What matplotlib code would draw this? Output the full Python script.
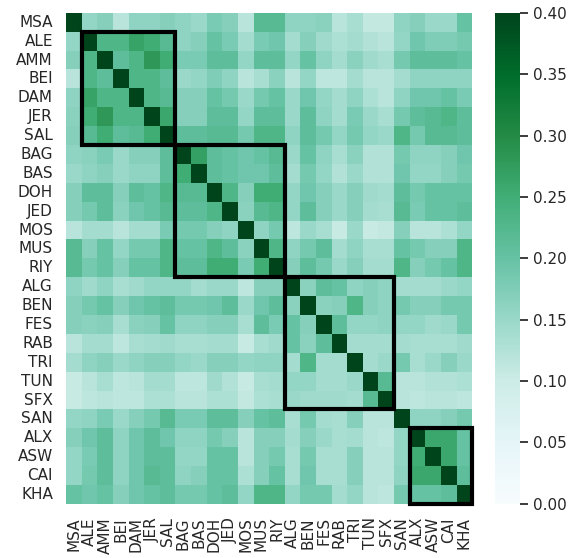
import numpy as np
import matplotlib
matplotlib.use("Agg")
import matplotlib.pyplot as plt
from matplotlib.patches import Rectangle
import seaborn as sns

# Dialect labels
labels = ["MSA", "ALE", "AMM", "BEI", "DAM", "JER", "SAL", "BAG", "BAS", "DOH",
          "JED", "MOS", "MUS", "RIY", "ALG", "BEN", "FES", "RAB", "TRI", "TUN",
          "SFX", "SAN", "ALX", "ASW", "CAI", "KHA"]

# Similarity matrix (row by row)
row_msa = [0.45, 0.155, 0.17, 0.12, 0.16, 0.16, 0.17, 0.16, 0.15, 0.18, 0.17, 0.12, 0.22, 0.22, 0.16, 0.16, 0.165, 0.12, 0.135, 0.11, 0.11, 0.16, 0.17, 0.15, 0.15, 0.20]
row_ale = [0.155, 0.45, 0.23, 0.23, 0.265, 0.25, 0.22, 0.16, 0.17, 0.2, 0.18, 0.14, 0.18, 0.19, 0.14, 0.17, 0.145, 0.13, 0.14, 0.125, 0.12, 0.155, 0.19, 0.175, 0.175, 0.185]
row_amm = [0.17, 0.23, 0.45, 0.21, 0.23, 0.28, 0.25, 0.18, 0.18, 0.21, 0.21, 0.155, 0.21, 0.21, 0.155, 0.2, 0.16, 0.14, 0.165, 0.145, 0.135, 0.185, 0.21, 0.21, 0.21, 0.2]
row_bei = [0.12, 0.23, 0.21, 0.45, 0.23, 0.23, 0.21, 0.15, 0.155, 0.175, 0.16, 0.12, 0.135, 0.165, 0.12, 0.155, 0.115, 0.115, 0.14, 0.12, 0.12, 0.14, 0.16, 0.16, 0.16, 0.16]
row_dam = [0.16, 0.265, 0.23, 0.23, 0.45, 0.23, 0.22, 0.17, 0.17, 0.2, 0.185, 0.15, 0.185, 0.2, 0.15, 0.19, 0.155, 0.14, 0.16, 0.13, 0.12, 0.16, 0.19, 0.19, 0.2, 0.18]
row_jer = [0.165, 0.25, 0.28, 0.23, 0.23, 0.45, 0.26, 0.17, 0.17, 0.21, 0.21, 0.155, 0.21, 0.21, 0.15, 0.21, 0.16, 0.14, 0.18, 0.15, 0.135, 0.185, 0.21, 0.22, 0.23, 0.21]
row_sal = [0.17, 0.22, 0.25, 0.21, 0.22, 0.25, 0.45, 0.21, 0.21, 0.22, 0.22, 0.185, 0.23, 0.23, 0.16, 0.21, 0.185, 0.155, 0.185, 0.155, 0.15, 0.23, 0.185, 0.22, 0.22, 0.21]
row_bag = [0.16, 0.165, 0.18, 0.15, 0.17, 0.17, 0.21, 0.45, 0.27, 0.21, 0.2, 0.19, 0.2, 0.22, 0.15, 0.2, 0.16, 0.135, 0.165, 0.125, 0.125, 0.185, 0.16, 0.16, 0.17, 0.19]
row_bas = [0.15, 0.16, 0.17, 0.15, 0.16, 0.16, 0.21, 0.25, 0.45, 0.21, 0.2, 0.19, 0.19, 0.21, 0.14, 0.185, 0.155, 0.125, 0.15, 0.125, 0.125, 0.19, 0.155, 0.155, 0.17, 0.185]
row_doh = [0.17, 0.21, 0.21, 0.17, 0.21, 0.2, 0.23, 0.22, 0.22, 0.45, 0.23, 0.17, 0.25, 0.25, 0.155, 0.19, 0.17, 0.15, 0.17, 0.145, 0.14, 0.21, 0.185, 0.2, 0.2, 0.2]
row_jed = [0.17, 0.185, 0.21, 0.165, 0.19, 0.2, 0.22, 0.21, 0.21, 0.23, 0.45, 0.165, 0.22, 0.23, 0.155, 0.21, 0.17, 0.15, 0.17, 0.14, 0.135, 0.22, 0.18, 0.2, 0.2, 0.21]
row_mos = [0.12, 0.14, 0.14, 0.12, 0.14, 0.14, 0.18, 0.185, 0.185, 0.17, 0.16, 0.45, 0.16, 0.185, 0.115, 0.15, 0.135, 0.105, 0.15, 0.105, 0.11, 0.17, 0.12, 0.12, 0.13, 0.155]
row_mus = [0.22, 0.17, 0.2, 0.155, 0.185, 0.185, 0.23, 0.2, 0.2, 0.23, 0.21, 0.165, 0.45, 0.23, 0.16, 0.185, 0.21, 0.14, 0.16, 0.135, 0.135, 0.2, 0.185, 0.17, 0.17, 0.23]
row_riy = [0.22, 0.185, 0.2, 0.17, 0.2, 0.2, 0.23, 0.21, 0.21, 0.25, 0.25, 0.18, 0.25, 0.45, 0.17, 0.21, 0.185, 0.15, 0.17, 0.14, 0.14, 0.23, 0.17, 0.185, 0.2, 0.23]
row_alg = [0.16, 0.145, 0.16, 0.135, 0.145, 0.155, 0.155, 0.155, 0.14, 0.15, 0.15, 0.115, 0.17, 0.17, 0.45, 0.165, 0.21, 0.2, 0.16, 0.17, 0.16, 0.14, 0.14, 0.14, 0.15, 0.155]
row_ben = [0.17, 0.185, 0.2, 0.17, 0.19, 0.2, 0.21, 0.185, 0.185, 0.19, 0.21, 0.15, 0.19, 0.21, 0.165, 0.45, 0.165, 0.17, 0.23, 0.17, 0.16, 0.185, 0.17, 0.17, 0.185, 0.185]
row_fes = [0.17, 0.165, 0.17, 0.135, 0.165, 0.17, 0.2, 0.16, 0.16, 0.17, 0.17, 0.135, 0.21, 0.18, 0.2, 0.17, 0.45, 0.21, 0.155, 0.155, 0.16, 0.155, 0.155, 0.145, 0.15, 0.185]
row_rab = [0.12, 0.14, 0.14, 0.115, 0.135, 0.14, 0.145, 0.135, 0.135, 0.14, 0.14, 0.105, 0.135, 0.145, 0.2, 0.165, 0.21, 0.45, 0.14, 0.14, 0.14, 0.14, 0.135, 0.135, 0.135, 0.145]
row_tri = [0.14, 0.16, 0.17, 0.15, 0.16, 0.17, 0.17, 0.155, 0.15, 0.17, 0.17, 0.155, 0.16, 0.16, 0.14, 0.23, 0.14, 0.14, 0.45, 0.14, 0.15, 0.185, 0.135, 0.15, 0.17, 0.15]
row_tun = [0.105, 0.12, 0.135, 0.115, 0.12, 0.14, 0.14, 0.115, 0.115, 0.145, 0.125, 0.105, 0.135, 0.14, 0.155, 0.155, 0.14, 0.14, 0.15, 0.45, 0.22, 0.12, 0.12, 0.125, 0.125, 0.13]
row_sfx = [0.105, 0.115, 0.12, 0.115, 0.115, 0.13, 0.13, 0.12, 0.12, 0.13, 0.13, 0.11, 0.13, 0.135, 0.15, 0.145, 0.145, 0.145, 0.14, 0.22, 0.45, 0.12, 0.115, 0.12, 0.12, 0.115]
row_san = [0.155, 0.16, 0.18, 0.15, 0.17, 0.185, 0.22, 0.18, 0.18, 0.21, 0.21, 0.17, 0.2, 0.21, 0.135, 0.185, 0.14, 0.135, 0.17, 0.12, 0.12, 0.45, 0.16, 0.16, 0.17, 0.185]
row_alx = [0.17, 0.19, 0.21, 0.16, 0.19, 0.21, 0.19, 0.16, 0.16, 0.185, 0.17, 0.12, 0.17, 0.17, 0.14, 0.17, 0.15, 0.135, 0.14, 0.12, 0.115, 0.155, 0.45, 0.26, 0.26, 0.2]
row_asw = [0.155, 0.18, 0.21, 0.16, 0.19, 0.21, 0.21, 0.155, 0.155, 0.2, 0.2, 0.12, 0.17, 0.185, 0.135, 0.185, 0.135, 0.135, 0.17, 0.12, 0.12, 0.155, 0.25, 0.45, 0.26, 0.2]
row_cai = [0.155, 0.185, 0.21, 0.16, 0.19, 0.22, 0.21, 0.16, 0.17, 0.2, 0.2, 0.13, 0.17, 0.2, 0.135, 0.19, 0.135, 0.135, 0.17, 0.12, 0.12, 0.16, 0.26, 0.26, 0.45, 0.21]
row_kha = [0.2, 0.19, 0.2, 0.17, 0.19, 0.2, 0.21, 0.185, 0.185, 0.2, 0.21, 0.155, 0.23, 0.23, 0.155, 0.185, 0.185, 0.14, 0.155, 0.12, 0.115, 0.185, 0.2, 0.2, 0.21, 0.45]

matrix = np.array([row_msa, row_ale, row_amm, row_bei, row_dam, row_jer, row_sal,
                   row_bag, row_bas, row_doh, row_jed, row_mos, row_mus, row_riy,
                   row_alg, row_ben, row_fes, row_rab, row_tri, row_tun, row_sfx,
                   row_san, row_alx, row_asw, row_cai, row_kha])

# Regional groups (first, last index) outlined with boxes
groups = [(1, 6), (7, 13), (14, 20), (22, 25)]

sns.set_theme(style="white")

fig = plt.figure(figsize=(5.8, 5.58), dpi=100)
ax = fig.add_axes([0.114, 0.097, 0.700, 0.880])
cax = fig.add_axes([0.853, 0.097, 0.043, 0.880])

sns.heatmap(matrix, cmap="BuGn", vmin=0, vmax=0.4, ax=ax, cbar_ax=cax,
            xticklabels=labels, yticklabels=labels)

for start, end in groups:
    size = end - start + 1
    ax.add_patch(Rectangle((start, start), size, size, fill=False,
                           edgecolor="black", linewidth=3, clip_on=False))

ax.tick_params(axis="x", rotation=90, labelsize=11)
ax.tick_params(axis="y", rotation=0, labelsize=11)
cax.tick_params(labelsize=11)

plt.savefig("out.png")
plt.close()
